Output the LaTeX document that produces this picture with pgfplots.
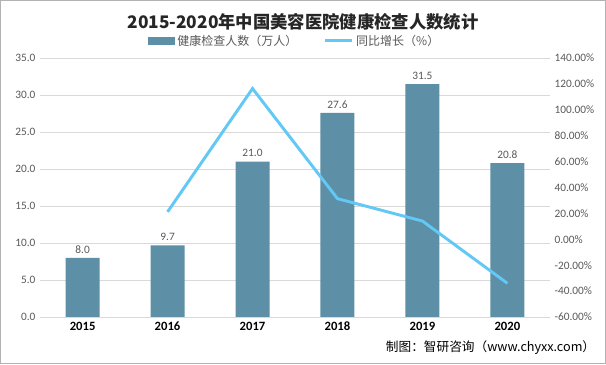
\documentclass[border=0pt]{standalone}
\usepackage{fontspec}
\usepackage{pgfplots}
\pgfplotsset{compat=1.18}
\setmainfont{Carlito}
\newfontfamily\cjk{Noto Sans CJK SC}
\definecolor{barc}{RGB}{93,143,166}
\definecolor{linec}{RGB}{98,200,245}
\definecolor{tickc}{RGB}{89,89,89}
\definecolor{gridc}{RGB}{217,217,217}
\begin{document}
\begin{tikzpicture}[x=0.75pt,y=0.75pt]
\draw[draw=gray!60,fill=white,line width=1pt] (0.5,0.5) rectangle (605.5,363.5);
\begin{axis}[
  at={(40pt*0.75,47pt*0.75)}, anchor=south west,
  scale only axis, width=382.5pt, height=194.25pt,
  xmin=-0.5, xmax=5.5, ymin=0, ymax=35,
  xtick={0,1,2,3,4,5}, xticklabels={2015,2016,2017,2018,2019,2020},
  xticklabel style={font=\fontsize{9.5}{10}\selectfont\bfseries, text=black},
  ytick={0,5,...,35},
  yticklabel style={font=\fontsize{8.5}{10}\selectfont, text=tickc},
  /pgf/number format/assume math mode=true,
  yticklabel={\pgfmathprintnumber[fixed,fixed zerofill,precision=1]{\tick}},
  ymajorgrids, grid style={gridc, line width=0.6pt},
  axis line style={draw=none},
  axis x line*=bottom, axis y line*=left,
  x axis line style={draw=gridc},
  major tick length=0pt,
  clip=false,
  legend columns=2,
  legend style={at={(0.5,1.02)}, anchor=south, draw=none, fill=none,
    font=\cjk\fontsize{9}{10}\selectfont, text=tickc,
    /tikz/every even column/.append style={column sep=18pt}},
  legend image code/.code={},
]
\addlegendimage{area legend, fill=barc, draw=none, legend image code/.code={\fill[barc] (0pt,-2.5pt) rectangle (20pt,3pt);}}
\addlegendentry{健康检查人数（万人）}
\addlegendimage{legend image code/.code={\draw[linec, line width=2.2pt] (0pt,0.3pt) -- (20pt,0.3pt);}}
\addlegendentry{同比增长（\%）}
\addplot[ybar, bar width=25.5pt, fill=barc, draw=none,
  nodes near coords, nodes near coords style={font=\fontsize{8.5}{10}\selectfont, text=tickc,
    /pgf/number format/fixed, /pgf/number format/fixed zerofill, /pgf/number format/precision=1},
  point meta=explicit] table[meta=y] {
x y
0 8.0
1 9.7
2 21.0
3 27.6
4 31.5
5 20.8
};
\end{axis}
\begin{axis}[
  at={(40pt*0.75,47pt*0.75)}, anchor=south west,
  scale only axis, width=382.5pt, height=194.25pt,
  xmin=-0.5, xmax=5.5, ymin=-60, ymax=140,
  axis x line=none, axis y line*=right,
  axis line style={draw=none},
  major tick length=0pt,
  ytick={-60,-40,...,140},
  yticklabel style={font=\fontsize{8.5}{10}\selectfont, text=tickc},
  /pgf/number format/assume math mode=true,
  yticklabel={\pgfmathprintnumber[fixed,fixed zerofill,precision=2]{\tick}\%},
]
\addplot[linec, line width=2.2pt] coordinates {
(1,21.25) (2,116.49) (3,31.43) (4,14.13) (5,-33.97)
};
\end{axis}
\node[font=\cjk\fontsize{13}{14}\selectfont\bfseries, text=black!85] at (303,342) {2015-2020年中国美容医院健康检查人数统计};
\node[font=\cjk\fontsize{9.5}{11}\selectfont, anchor=east] at (600,16) {制图：智研咨询（www.chyxx.com）};
\end{tikzpicture}
\end{document}
